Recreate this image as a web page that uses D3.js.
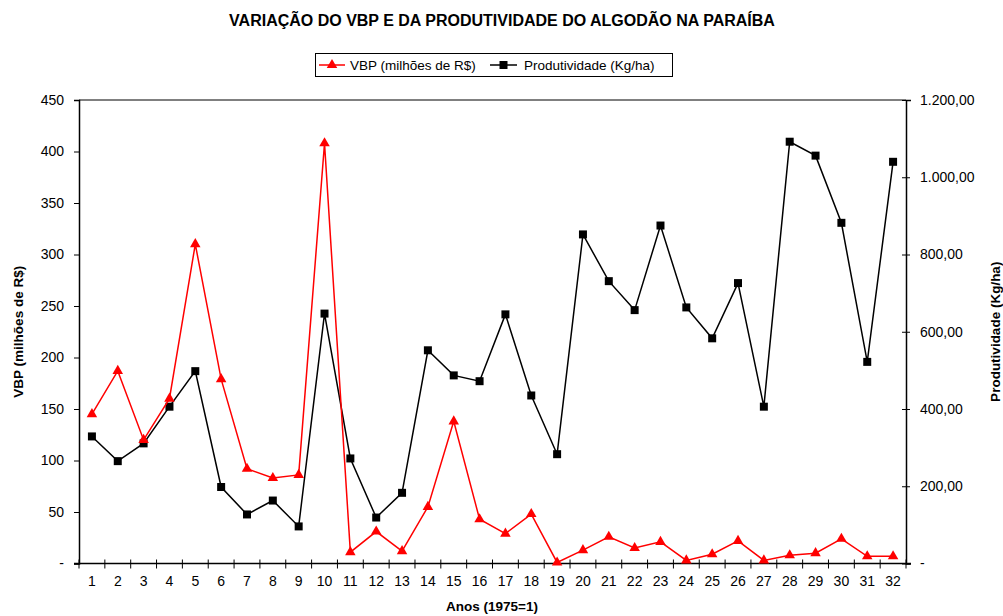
<!DOCTYPE html>
<html><head><meta charset="utf-8">
<script src="https://cdn.jsdelivr.net/npm/d3@7/dist/d3.min.js"></script>
<style>body{margin:0;background:#fff;}svg{display:block;font-family:"Liberation Sans",Arial,sans-serif;}</style>
</head><body><svg id="c" width="1003" height="616"></svg>
<script>
const years = d3.range(1, 33).map(String);
const vbp = [145,187,120,160,310,179,92,83,86,408,11,31,12,55,138,43,29,48,1,13,26,15,21,3,9,22,3,8,10,24,7,7];
const prod = [329,265,311,406,498,198,127,163,96,647,272,119,183,552,487,472,645,435,283,852,731,656,875,663,583,726,406,1092,1056,882,522,1040];
const leftTicks = [0,50,100,150,200,250,300,350,400,450];
const rightTicks = [0,200,400,600,800,1000,1200];
const title = "VARIAÇÃO DO VBP E DA PRODUTIVIDADE DO ALGODÃO NA PARAÍBA";
const seriesNames = ["VBP (milhões de R$)", "Produtividade (Kg/ha)"];

const svg = d3.select("#c");
const L = 79, R = 906, T = 100, B = 563.5;
const x = d3.scaleBand().domain(years).range([L, R]);
const yL = d3.scaleLinear().domain([0, 450]).range([B, T]);
const yR = d3.scaleLinear().domain([0, 1200]).range([B, T]);
const fmtR = v => v === 0 ? "-" : d3.format(",.2f")(v).replace(/,/g, "X").replace(/\./g, ",").replace(/X/g, ".");

svg.append("text").attr("x", 502).attr("y", 26).attr("text-anchor", "middle")
  .attr("font-weight", "bold").attr("font-size", 16).text(title);

// top border
svg.append("line").attr("x1", L).attr("x2", R).attr("y1", T).attr("y2", T).attr("stroke", "#000").attr("stroke-width", 1);

// left axis
const gL = svg.append("g").attr("transform", `translate(${L},0)`)
  .call(d3.axisLeft(yL).tickValues(leftTicks).tickSize(5).tickPadding(10).tickFormat(v => v === 0 ? "-" : v));
// right axis
const gR = svg.append("g").attr("transform", `translate(${R},0)`)
  .call(d3.axisRight(yR).tickValues(rightTicks).tickSize(5).tickPadding(9).tickFormat(fmtR));
gR.selectAll(".tick line").attr("x1", -4).attr("x2", 4);
// bottom axis
const xTicks = d3.range(0, 33).map(i => L + i * x.step());
const gB = svg.append("g").attr("transform", `translate(0,${B})`)
  .call(d3.axisBottom(x).tickSize(0).tickPadding(13));
gB.selectAll(".tickmark").data(xTicks).enter().append("line")
  .attr("x1", d => d).attr("x2", d => d).attr("y1", -4).attr("y2", 5).attr("stroke", "#000");
gB.append("line").attr("x1", L - 5).attr("x2", R + 5).attr("stroke", "#000").attr("stroke-width", 1.5);

[gL, gR, gB].forEach(g => {
  g.selectAll(".domain").attr("stroke", "#000").attr("stroke-width", 1.5);
  g.selectAll(".tick line").attr("stroke", "#000");
  g.selectAll("text").attr("font-size", 14).attr("fill", "#000").attr("font-family", "Liberation Sans, Arial, sans-serif");
});
gB.select(".domain").remove();

// axis titles
svg.append("text").attr("x", 492).attr("y", 611).attr("text-anchor", "middle")
  .attr("font-weight", "bold").attr("font-size", 13.5).text("Anos (1975=1)");
svg.append("text").attr("transform", `translate(23,${(T + B) / 2}) rotate(-90)`).attr("text-anchor", "middle")
  .attr("font-weight", "bold").attr("font-size", 13.5).text("VBP (milhões de R$)");
svg.append("text").attr("transform", `translate(1000,${(T + B) / 2}) rotate(-90)`).attr("text-anchor", "middle")
  .attr("font-weight", "bold").attr("font-size", 13.5).text("Produtividade (Kg/ha)");

const cx = d => x(d) + x.bandwidth() / 2;
const tri = d3.symbol().type(d3.symbolTriangle).size(48);
const sq = d3.symbol().type(d3.symbolSquare).size(64);

// Produtividade line
svg.append("path").datum(prod).attr("fill", "none").attr("stroke", "#000").attr("stroke-width", 1.5)
  .attr("d", d3.line().x((d, i) => cx(years[i])).y(d => yR(d)));
svg.selectAll(".sq").data(prod).enter().append("path")
  .attr("transform", (d, i) => `translate(${cx(years[i])},${yR(d)})`).attr("d", sq).attr("fill", "#000");

// VBP line
svg.append("path").datum(vbp).attr("fill", "none").attr("stroke", "#ff0000").attr("stroke-width", 1.5)
  .attr("d", d3.line().x((d, i) => cx(years[i])).y(d => yL(d)));
svg.selectAll(".tri").data(vbp).enter().append("path")
  .attr("transform", (d, i) => `translate(${cx(years[i])},${yL(d)})`).attr("d", tri).attr("fill", "#ff0000");

// legend
const lg = svg.append("g");
lg.append("rect").attr("x", 315.5).attr("y", 53.5).attr("width", 357).attr("height", 23)
  .attr("fill", "#fff").attr("stroke", "#000").attr("stroke-width", 1);
lg.append("line").attr("x1", 319).attr("x2", 345).attr("y1", 65).attr("y2", 65).attr("stroke", "#ff0000").attr("stroke-width", 1.5);
lg.append("path").attr("transform", "translate(332,65)").attr("d", tri).attr("fill", "#ff0000");
lg.append("text").attr("x", 350).attr("y", 70).attr("font-size", 13.5).text(seriesNames[0]);
lg.append("line").attr("x1", 490).attr("x2", 517).attr("y1", 65).attr("y2", 65).attr("stroke", "#000").attr("stroke-width", 1.5);
lg.append("path").attr("transform", "translate(503.5,65)").attr("d", sq).attr("fill", "#000");
lg.append("text").attr("x", 524).attr("y", 70).attr("font-size", 13.5).text(seriesNames[1]);
</script></body></html>
